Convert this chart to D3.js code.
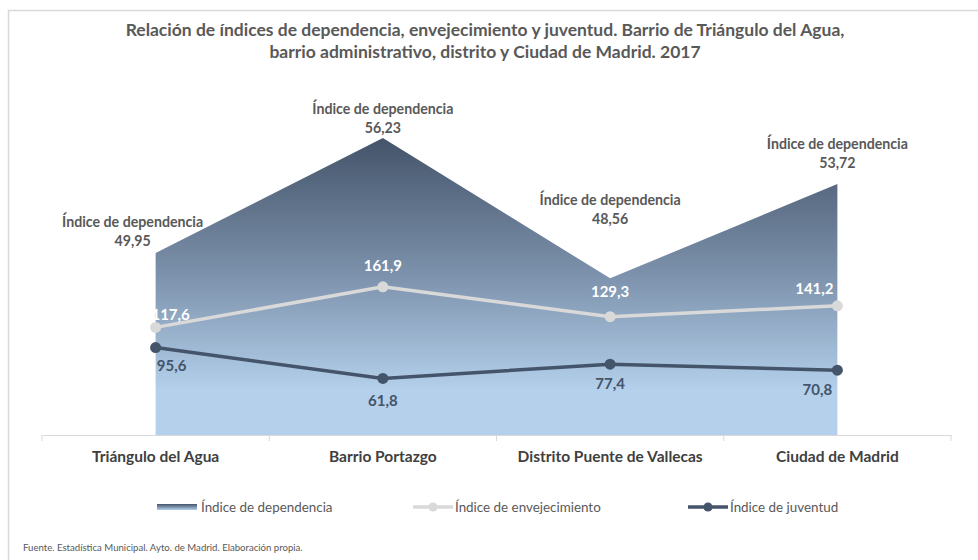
<!DOCTYPE html>
<html>
<head>
<meta charset="utf-8">
<script src="https://cdn.jsdelivr.net/npm/d3@7"></script>
<style>
  body { margin: 0; background: #fff; }
  text { font-family: Lato, "Open Sans", sans-serif; }
</style>
</head>
<body>
<div class="chart"></div>
<script>
// data
const categories = ["Triángulo del Agua", "Barrio Portazgo", "Distrito Puente de Vallecas", "Ciudad de Madrid"]
const dependencia = [49.95, 56.23, 48.56, 53.72]
const envejecimiento = [117.6, 161.9, 129.3, 141.2]
const juventud = [95.6, 61.8, 77.4, 70.8]
const seriesNames = ["Índice de dependencia", "Índice de envejecimiento", "Índice de juventud"]

// label placement tweaks (dx, dy from the point), like the manual moves in the original
const depLabelOffset = [[-23, -12], [0, -10], [0, -59], [0, -21]]
const envLabelOffset = [[15, -13], [0, -21], [0, -25], [-23, -17]]
const juvLabelOffset = [[16, 18], [0, 22], [0, 20], [-20, 20]]

const fmt = v => String(v).replace(".", ",")
const fmt2 = v => v.toFixed(2).replace(".", ",")

const w = 978
const h = 560
const plotLeft = 42, plotRight = 951, plotTop = 69, plotBottom = 435

const svg = d3.select(".chart")
  .append("svg")
  .attr("width", w)
  .attr("height", h)

// outer frame (only top and left edges visible)
svg.append("rect")
  .attr("x", 8.5).attr("y", 10.5)
  .attr("width", 1000).attr("height", 600)
  .attr("fill", "none")
  .attr("stroke", "#d9d9d9")
  .attr("stroke-width", 1.5)

// title
svg.append("text")
  .attr("text-anchor", "middle")
  .attr("font-weight", "bold")
  .attr("font-size", 17.5)
  .attr("fill", "#595959")
  .selectAll("tspan")
  .data(["Relación de índices de dependencia, envejecimiento y juventud. Barrio de Triángulo del Agua,",
         "barrio administrativo,  distrito y Ciudad de Madrid. 2017"])
  .enter().append("tspan")
  .attr("x", 485)
  .attr("y", (d, i) => 36 + i * 22)
  .text(d => d)

const xScale = d3.scaleBand()
  .domain(categories)
  .range([plotLeft, plotRight])

const cx = d => xScale(d) + xScale.bandwidth() / 2

// secondary axis for the area, primary for the lines
const yDep = d3.scaleLinear().domain([40, 60]).range([plotBottom, plotTop])
const yIdx = d3.scaleLinear().domain([0, 400]).range([plotBottom, plotTop])

const defs = svg.append("defs")
const grad = defs.append("linearGradient")
  .attr("id", "depGrad")
  .attr("gradientUnits", "userSpaceOnUse")
  .attr("x1", 0).attr("x2", 0)
  .attr("y1", yDep(d3.max(dependencia))).attr("y2", plotBottom)
grad.append("stop").attr("offset", "0").attr("stop-color", "#44546a")
grad.append("stop").attr("offset", "0.45").attr("stop-color", "#7b90aa")
grad.append("stop").attr("offset", "0.85").attr("stop-color", "#b4d0eb")
grad.append("stop").attr("offset", "1").attr("stop-color", "#b4d0eb")

const lg = defs.append("linearGradient")
  .attr("id", "legGrad")
  .attr("x1", 0).attr("x2", 0).attr("y1", 0).attr("y2", 1)
lg.append("stop").attr("offset", "0").attr("stop-color", "#44546a")
lg.append("stop").attr("offset", "1").attr("stop-color", "#b4d0eb")

const depData = categories.map((c, i) => ({ c, v: dependencia[i] }))

const area = d3.area()
  .x(d => cx(d.c))
  .y0(plotBottom)
  .y1(d => yDep(d.v))

svg.append("path")
  .datum(depData)
  .attr("d", area)
  .attr("fill", "url(#depGrad)")

// x axis
const xAxis = d3.axisBottom(xScale).tickSize(0).tickPadding(16)
const gx = svg.append("g")
  .attr("transform", "translate(0," + plotBottom + ")")
  .call(xAxis)
gx.select(".domain").attr("stroke", "#d9d9d9").attr("stroke-width", 1)
gx.selectAll("text")
  .attr("font-size", 15.5)
  .attr("font-weight", "bold")
  .attr("fill", "#404040")
  .attr("font-family", "Lato, sans-serif")
// category separators
gx.selectAll(".sep")
  .data(categories.concat(["end"]))
  .enter().append("line")
  .attr("class", "sep")
  .attr("x1", (d, i) => plotLeft + i * xScale.bandwidth())
  .attr("x2", (d, i) => plotLeft + i * xScale.bandwidth())
  .attr("y1", 0).attr("y2", 6)
  .attr("stroke", "#d9d9d9")

// lines
const lineGen = y => d3.line().x(d => cx(d.c)).y(d => y(d.v))

const drawLine = (vals, color, offsets, labelColor) => {
  const d = categories.map((c, i) => ({ c, v: vals[i] }))
  svg.append("path")
    .datum(d)
    .attr("d", lineGen(yIdx))
    .attr("fill", "none")
    .attr("stroke", color)
    .attr("stroke-width", 3.5)
  svg.selectAll(null)
    .data(d)
    .enter().append("circle")
    .attr("cx", p => cx(p.c))
    .attr("cy", p => yIdx(p.v))
    .attr("r", 5.5)
    .attr("fill", color)
  svg.selectAll(null)
    .data(d)
    .enter().append("text")
    .attr("x", (p, i) => cx(p.c) + offsets[i][0])
    .attr("y", (p, i) => yIdx(p.v) + offsets[i][1])
    .attr("dy", "0.35em")
    .attr("text-anchor", "middle")
    .attr("font-size", 15)
    .attr("font-weight", "bold")
    .attr("fill", labelColor)
    .text(p => fmt(p.v))
}

drawLine(envejecimiento, "#d9d9d9", envLabelOffset, "#ffffff")
drawLine(juventud, "#44546a", juvLabelOffset, "#44546a")

// dependency labels
const depLabels = svg.selectAll(".deplab")
  .data(depData)
  .enter().append("text")
  .attr("class", "deplab")
  .attr("text-anchor", "middle")
  .attr("font-size", 14.2)
  .attr("font-weight", "bold")
  .attr("fill", "#595959")
depLabels.append("tspan")
  .attr("x", (d, i) => cx(d.c) + depLabelOffset[i][0])
  .attr("y", (d, i) => yDep(d.v) + depLabelOffset[i][1] - 19)
  .attr("dy", "0.35em")
  .text(seriesNames[0])
depLabels.append("tspan")
  .attr("x", (d, i) => cx(d.c) + depLabelOffset[i][0])
  .attr("y", (d, i) => yDep(d.v) + depLabelOffset[i][1])
  .attr("dy", "0.35em")
  .text(d => fmt2(d.v))

// legend
const ly = 507
const legend = svg.append("g")
legend.append("rect")
  .attr("x", 157).attr("y", ly - 3)
  .attr("width", 40).attr("height", 6)
  .attr("fill", "url(#legGrad)")

const legendLines = [
  { x: 413, color: "#d9d9d9" },
  { x: 688, color: "#44546a" }
]
legendLines.forEach(l => {
  legend.append("line")
    .attr("x1", l.x).attr("x2", l.x + 40)
    .attr("y1", ly).attr("y2", ly)
    .attr("stroke", l.color).attr("stroke-width", 3.5)
  legend.append("circle")
    .attr("cx", l.x + 20).attr("cy", ly).attr("r", 4.5)
    .attr("fill", l.color)
})
legend.selectAll("text")
  .data(seriesNames)
  .enter().append("text")
  .attr("x", (d, i) => [201, 455, 730][i])
  .attr("y", ly)
  .attr("dy", "0.35em")
  .attr("font-size", 13.4)
  .attr("fill", "#595959")
  .text(d => d)

// source
svg.append("text")
  .attr("x", 23).attr("y", 548)
  .attr("dy", "0.35em")
  .attr("font-size", 9.6)
  .attr("fill", "#595959")
  .text("Fuente. Estadística Municipal. Ayto. de Madrid. Elaboración propia.")
</script>
</body>
</html>
